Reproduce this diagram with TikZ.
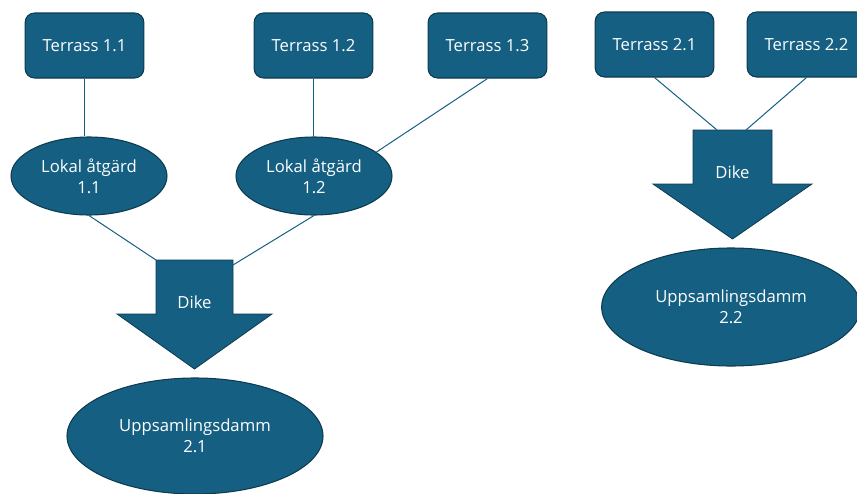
\documentclass[tikz,border=0pt]{standalone}
\usepackage{fontspec}
\setmainfont{Open Sans}
\usetikzlibrary{positioning, shapes.geometric}
\definecolor{teal}{HTML}{156082}
\definecolor{tealdark}{HTML}{0D3B50}

\begin{document}
\begin{tikzpicture}[x=0.75pt,y=-0.75pt,semithick,
  font=\fontsize{12.5}{15.75}\selectfont]
  \tikzstyle{terrass}=[rectangle,rounded corners=7pt,fill=teal,draw=tealdark,
    line width=0.8pt,text=white,minimum width=89pt,minimum height=48.75pt]
  \tikzstyle{atgard}=[ellipse,fill=teal,draw=tealdark,line width=0.8pt,
    text=white,align=center,inner sep=0pt,minimum width=117pt,minimum height=58.5pt]
  \tikzstyle{damm}=[atgard,minimum width=192pt,minimum height=87pt]
  \tikzstyle{dike}=[fill=teal,draw=tealdark,line width=0.6pt]
  \tikzstyle{link}=[draw=teal,line width=0.75pt]

  \useasboundingbox (0,0) rectangle (857,493);

  % dikes
  \draw[dike] (156,260) -- (233,260) -- (233,314) -- (272,314) -- (194.5,369)
    -- (117,314) -- (156,314) -- cycle;
  \draw[dike] (693,130) -- (772,130) -- (772,184) -- (812,184) -- (732.5,239)
    -- (653,184) -- (693,184) -- cycle;
  \node[text=white] (D1) at (194.5,302) {Dike};
  \node[text=white] (D2) at (732.5,172) {Dike};
  \coordinate (D1a) at (156,260);
  \coordinate (D1b) at (233,265);
  \coordinate (D2a) at (717,130);
  \coordinate (D2b) at (746,130);

  \node[terrass] (T11) at (84.5,45.5)  {Terrass 1.1};
  \node[terrass] (T12) at (313.5,45.5) {Terrass 1.2};
  \node[terrass] (T13) at (487.5,45.5) {Terrass 1.3};
  \node[terrass] (T21) at (654.5,44.5) {Terrass 2.1};
  \node[terrass] (T22) at (806.5,44.5) {Terrass 2.2};

  \node[atgard] (L11) at (89,176)  {Lokal åtgärd\\1.1};
  \node[atgard] (L12) at (314,176) {Lokal åtgärd\\1.2};

  \node[damm] (U21) at (195,436) {Uppsamlingsdamm\\2.1};
  \node[damm,minimum width=194pt,minimum height=88.5pt] (U22) at (731,307)
    {Uppsamlingsdamm\\2.2};

  \path[link] (T11.south) edge (T11.south |- L11.north)
        (T12.south) edge (T12.south |- L12.north)
        (T13.south) edge (L12.21)
        (L11.south) edge (D1a)
        (L12.south) edge (D1b)
        (T21.south) edge (D2a)
        (T22.south) edge (D2b);
\end{tikzpicture}
\end{document}
